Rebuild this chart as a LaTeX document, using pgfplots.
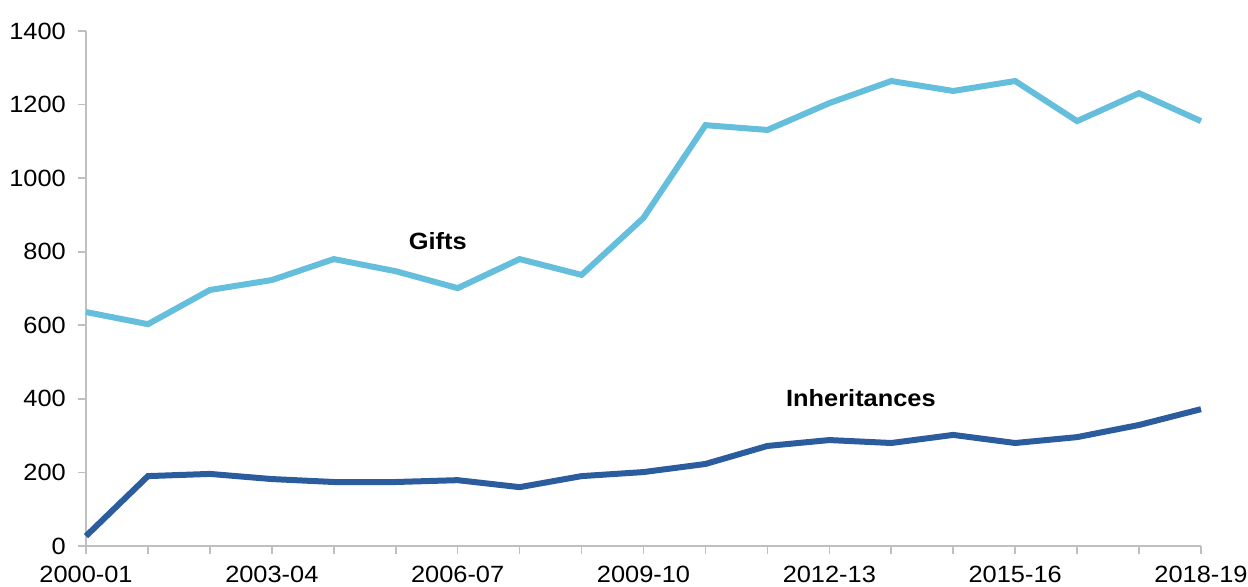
\documentclass[border=0pt]{standalone}
\usepackage{fontspec}
\setmainfont{Liberation Sans}[FakeStretch=1.08]
\usepackage{pgfplots}
\pgfplotsset{compat=1.18}
\definecolor{giftc}{HTML}{66BEDD}
\definecolor{inhc}{HTML}{2A5C9E}
\definecolor{axc}{HTML}{BFBFBF}
\begin{document}
\begin{tikzpicture}
\begin{axis}[
  scale only axis,
  width=1115pt, height=515pt,
  xmin=0, xmax=18, ymin=0, ymax=1400,
  axis x line*=bottom, axis y line*=left,
  axis line style={axc, line width=1.6pt},
  xtick={0,...,18},
  xticklabels={2000-01,,,2003-04,,,2006-07,,,2009-10,,,2012-13,,,2015-16,,,2018-19},
  ytick={0,200,...,1400},
  tick align=outside,
  major tick length=8pt,
  tick style={axc, line width=1.6pt},
  tick label style={font=\fontsize{23.5}{27}\selectfont},
  /pgf/number format/assume math mode=true,
  /pgf/number format/1000 sep={},
  yticklabel style={inner sep=0pt, xshift=-12pt},
  xticklabel style={inner sep=0pt, yshift=-12pt},
  clip=false,
]
\addplot[giftc, line width=6pt] coordinates {
(0,636) (1,603) (2,696) (3,723) (4,780) (5,747) (6,701) (7,780) (8,737) (9,892)
(10,1144) (11,1131) (12,1204) (13,1264) (14,1237) (15,1264) (16,1155) (17,1231) (18,1155)};
\addplot[inhc, line width=6pt] coordinates {
(0,27) (1,190) (2,196) (3,182) (4,174) (5,174) (6,179) (7,160) (8,190) (9,201)
(10,223) (11,272) (12,288) (13,280) (14,302) (15,280) (16,296) (17,329) (18,372)};
\node[font=\bfseries\fontsize{23.5}{27}\selectfont] at (axis cs:5.68,829) {Gifts};
\node[font=\bfseries\fontsize{23.5}{27}\selectfont] at (axis cs:12.51,402) {Inheritances};
\coordinate (bl) at (rel axis cs:0,0);
\coordinate (tr) at (rel axis cs:1,1);
\end{axis}
\pgfresetboundingbox
\path ([xshift=-86pt,yshift=-40pt]bl) rectangle ([xshift=47pt,yshift=31pt]tr);
\end{tikzpicture}
\end{document}
